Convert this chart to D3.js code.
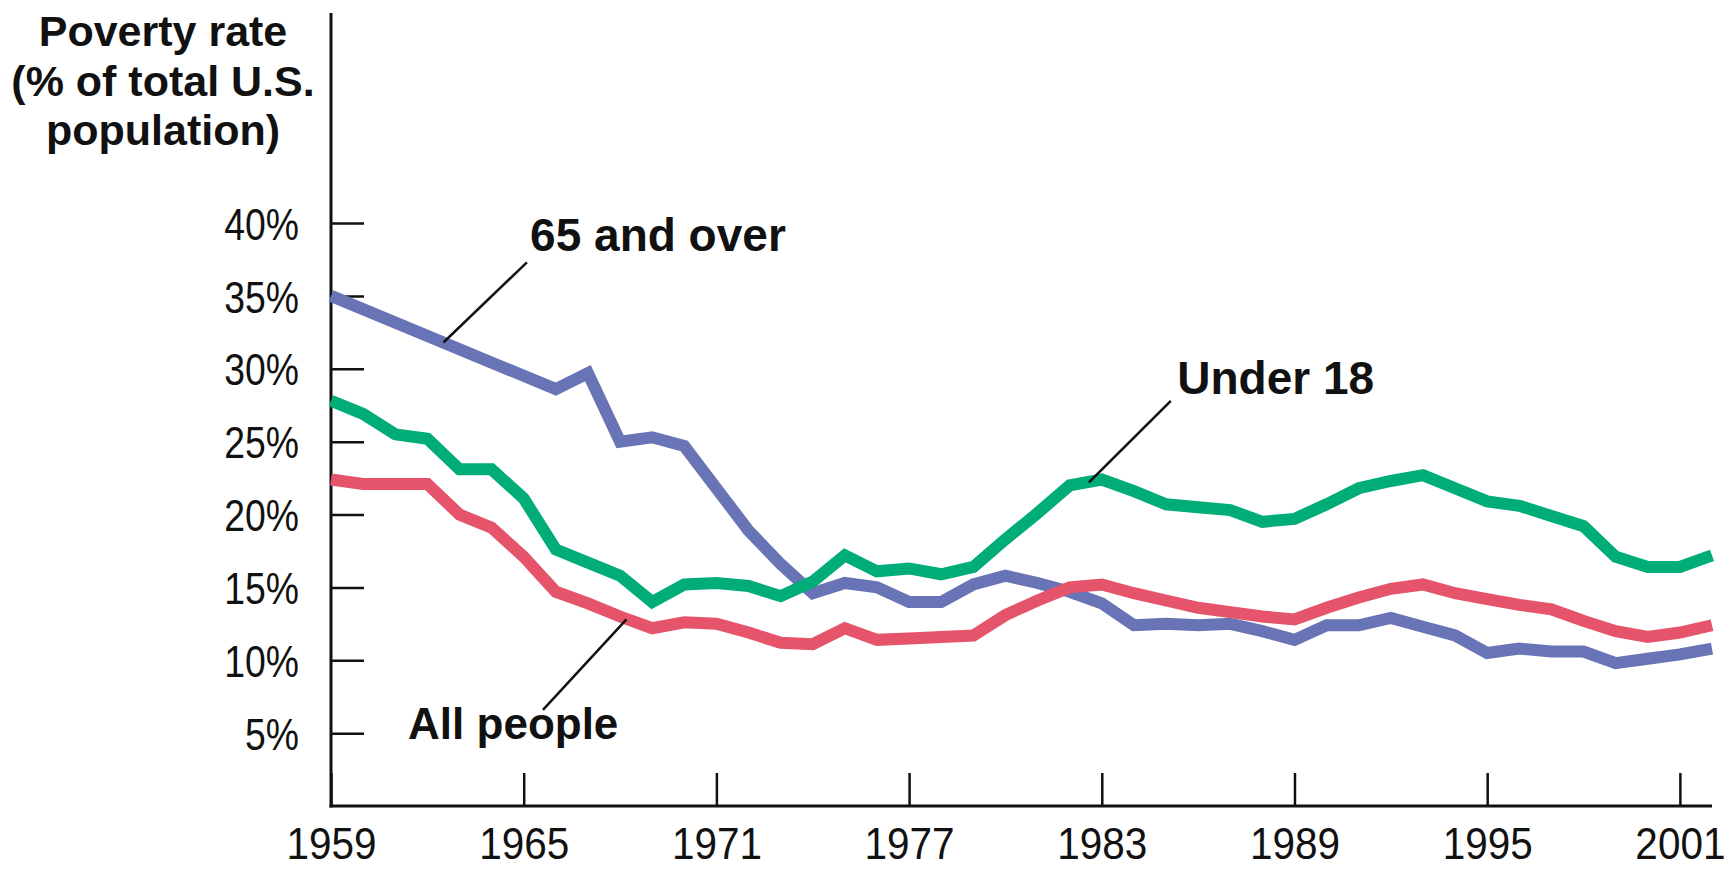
<!DOCTYPE html>
<html>
<head>
<meta charset="utf-8">
<script src="https://cdn.jsdelivr.net/npm/d3@7/dist/d3.min.js"></script>
<style>
  html, body { margin: 0; padding: 0; background: #ffffff; }
  svg { display: block; }
</style>
</head>
<body>
<svg id="chart" width="1732" height="869"></svg>
<script>
// ---- data ----
const titleLines = ["Poverty rate", "(% of total U.S.", "population)"];
const yTicks = [5, 10, 15, 20, 25, 30, 35, 40];
const xTicks = [1959, 1965, 1971, 1977, 1983, 1989, 1995, 2001];

const years = [1959,1960,1961,1962,1963,1964,1965,1966,1967,1968,1969,1970,1971,1972,1973,1974,1975,1976,1977,1978,1979,1980,1981,1982,1983,1984,1985,1986,1987,1988,1989,1990,1991,1992,1993,1994,1995,1996,1997,1998,1999,2000,2001,2002];

const allPeople = [22.4,22.1,22.1,22.1,20.0,19.1,17.1,14.7,13.9,13.0,12.2,12.6,12.5,11.9,11.2,11.1,12.2,11.4,11.5,11.6,11.7,13.1,14.1,15.0,15.2,14.6,14.1,13.6,13.3,13.0,12.8,13.6,14.3,14.9,15.2,14.6,14.2,13.8,13.5,12.7,12.0,11.6,11.9,12.4];

const under18 = [27.8,26.9,25.5,25.2,23.1,23.1,21.1,17.6,16.7,15.8,14.0,15.2,15.3,15.1,14.4,15.4,17.2,16.1,16.3,15.9,16.4,18.3,20.1,22.0,22.4,21.6,20.7,20.5,20.3,19.5,19.7,20.7,21.8,22.3,22.7,21.8,20.9,20.6,19.9,19.2,17.1,16.4,16.4,17.2];

const over65Years = [1959,1966,1967,1968,1969,1970,1971,1972,1973,1974,1975,1976,1977,1978,1979,1980,1981,1982,1983,1984,1985,1986,1987,1988,1989,1990,1991,1992,1993,1994,1995,1996,1997,1998,1999,2000,2001,2002];
const over65 = [35.0,28.6,29.7,25.0,25.3,24.7,21.8,18.9,16.6,14.6,15.3,15.0,14.0,14.0,15.2,15.8,15.3,14.7,13.9,12.4,12.5,12.4,12.5,12.0,11.4,12.4,12.4,12.9,12.3,11.7,10.5,10.8,10.6,10.6,9.8,10.1,10.4,10.8];

const seriesNames = ["65 and over", "Under 18", "All people"];
const seriesColors = ["#6874B5", "#00AD78", "#E5546B"];

// ---- layout ----
const svg = d3.select("#chart");
const x = d3.scaleLinear().domain([1959, 2002]).range([331, 1712]);
const y = d3.scaleLinear().domain([0, 40]).range([806, 223]);
const axisTop = 13;

const tickFont = "'Liberation Sans', Arial, sans-serif";
const boldFont = "'Liberation Sans', Arial, sans-serif";

function condense(sel, factor) {
  sel.each(function() {
    const w = this.getComputedTextLength();
    d3.select(this).attr("textLength", w * factor).attr("lengthAdjust", "spacingAndGlyphs");
  });
}

// title
const title = svg.append("text")
  .attr("text-anchor", "middle")
  .attr("font-family", boldFont)
  .attr("font-weight", "bold")
  .attr("font-size", 43)
  .attr("fill", "#111");
title.selectAll("tspan").data(titleLines).join("tspan")
  .attr("x", 163)
  .attr("y", (d, i) => 46 + i * 49.5)
  .text(d => d);

// y axis
const yAxis = d3.axisLeft(y)
  .tickValues(yTicks)
  .tickSizeInner(-33)
  .tickSizeOuter(0)
  .tickPadding(32)
  .tickFormat(d => d + "%");
const gy = svg.append("g").attr("transform", "translate(331,0)").call(yAxis);
gy.select(".domain").remove();
gy.selectAll(".tick line").attr("stroke", "#111").attr("stroke-width", 2.5);
gy.selectAll(".tick text")
  .attr("font-family", tickFont)
  .attr("font-size", 45)
  .attr("fill", "#111")
  .attr("dy", "0.36em")
  .call(condense, 0.83);

// x axis
const xAxis = d3.axisBottom(x)
  .tickValues(xTicks)
  .tickSizeInner(-33)
  .tickSizeOuter(0)
  .tickPadding(21)
  .tickFormat(d3.format("d"));
const gx = svg.append("g").attr("transform", "translate(0,806)").call(xAxis);
gx.select(".domain").remove();
gx.selectAll(".tick line").attr("stroke", "#111").attr("stroke-width", 2.5);
gx.selectAll(".tick text")
  .attr("font-family", tickFont)
  .attr("font-size", 44)
  .attr("fill", "#111")
  .attr("dy", "0.72em")
  .call(condense, 0.92);

// axis lines
svg.append("line")
  .attr("x1", x(1959)).attr("x2", x(1959))
  .attr("y1", axisTop).attr("y2", y(0) + 1.5)
  .attr("stroke", "#111").attr("stroke-width", 3);
svg.append("line")
  .attr("x1", x(1959) - 1.5).attr("x2", x(2002))
  .attr("y1", y(0)).attr("y2", y(0))
  .attr("stroke", "#111").attr("stroke-width", 3);

// lines
const line = d3.line().x(d => x(d[0])).y(d => y(d[1]));
const seriesData = [
  d3.zip(over65Years, over65),
  d3.zip(years, under18),
  d3.zip(years, allPeople)
];
svg.append("g").selectAll("path").data(seriesData).join("path")
  .attr("d", line)
  .attr("fill", "none")
  .attr("stroke", (d, i) => seriesColors[i])
  .attr("stroke-width", 12)
  .attr("stroke-linejoin", "miter")
  .attr("stroke-miterlimit", 3);

// annotations: leader lines and labels
const leaders = [
  {from: [1962.5, 31.8], to: [1965.1, 37.3]},
  {from: [1982.6, 22.2], to: [1985.15, 27.8]},
  {from: [1968.2, 12.8], to: [1965.6, 6.6]}
];
svg.append("g").selectAll("line").data(leaders).join("line")
  .attr("x1", d => x(d.from[0])).attr("y1", d => y(d.from[1]))
  .attr("x2", d => x(d.to[0])).attr("y2", d => y(d.to[1]))
  .attr("stroke", "#111").attr("stroke-width", 2.5);

const labelPos = [[1965.2, 38.1], [1985.35, 28.3], [1961.4, 4.6]];
svg.append("g").selectAll("text").data(seriesNames).join("text")
  .attr("x", (d, i) => x(labelPos[i][0]))
  .attr("y", (d, i) => y(labelPos[i][1]))
  .attr("font-family", boldFont)
  .attr("font-weight", "bold")
  .attr("font-size", (d, i) => i === 2 ? 44 : 46)
  .attr("fill", "#111")
  .text(d => d);
</script>
</body>
</html>
